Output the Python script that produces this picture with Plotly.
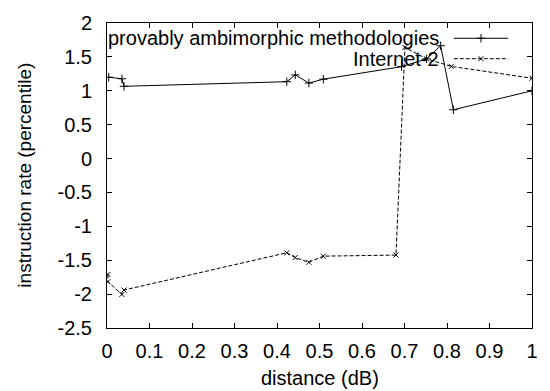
import plotly.graph_objects as go

# ---- data ----
s1_name = "provably ambimorphic methodologies"
s1_x = [0.004, 0.035, 0.040, 0.423, 0.443, 0.475, 0.509, 0.693, 0.752, 0.785, 0.815, 1.0]
s1_y = [1.20, 1.177, 1.066, 1.134, 1.234, 1.114, 1.171, 1.356, 1.47, 1.665, 0.72, 1.0]

s2_name = "Internet-2"
s2_x = [0.002, 0.002, 0.035, 0.040, 0.423, 0.443, 0.475, 0.509, 0.680, 0.701, 0.752, 0.810, 1.0]
s2_y = [-1.711, -1.817, -2.004, -1.94, -1.39, -1.46, -1.53, -1.44, -1.424, 1.64, 1.47, 1.36, 1.185]

x_ticks = [0, 0.1, 0.2, 0.3, 0.4, 0.5, 0.6, 0.7, 0.8, 0.9, 1]
x_tick_labels = ["0", "0.1", "0.2", "0.3", "0.4", "0.5", "0.6", "0.7", "0.8", "0.9", "1"]
y_ticks = [-2.5, -2, -1.5, -1, -0.5, 0, 0.5, 1, 1.5, 2]
y_tick_labels = ["-2.5", "-2", "-1.5", "-1", "-0.5", "0", "0.5", "1", "1.5", "2"]

x_title = "distance (dB)"
y_title = "instruction rate (percentile)"

FONT = "Liberation Sans, Arial, sans-serif"
FS = 20

fig = go.Figure()

fig.add_trace(go.Scatter(
    x=s1_x, y=s1_y, mode="lines+markers", showlegend=False,
    line=dict(color="black", width=1),
    marker=dict(symbol="cross-thin", size=6, line=dict(color="black", width=1)),
))
fig.add_trace(go.Scatter(
    x=s2_x, y=s2_y, mode="lines+markers", showlegend=False,
    line=dict(color="black", width=1, dash="4px,2px"),
    marker=dict(symbol="x-thin", size=5, line=dict(color="black", width=1)),
))

# gnuplot-style key (text right-aligned, sample to the right of text)
key_rows = [(s1_name, "solid", "cross-thin", 6, 0.950),
            (s2_name, "4px,2px", "x-thin", 5, 0.883)]
for name, dash, sym, msz, ky in key_rows:
    fig.add_trace(go.Scatter(
        x=[0.816, 0.944], y=[ky, ky], xaxis="x2", yaxis="y2", mode="lines",
        showlegend=False, hoverinfo="skip",
        line=dict(color="black", width=1, dash=dash)))
    fig.add_trace(go.Scatter(
        x=[0.880], y=[ky], xaxis="x2", yaxis="y2", mode="markers",
        showlegend=False, hoverinfo="skip",
        marker=dict(symbol=sym, size=msz, line=dict(color="black", width=1))))
    fig.add_annotation(text=name, xref="paper", yref="paper", x=0.786, y=ky,
                       xanchor="right", yanchor="middle", showarrow=False,
                       font=dict(family=FONT, size=FS, color="black"))

fig.add_annotation(text=x_title, xref="paper", yref="paper", x=0.5, y=-0.165,
                   xanchor="center", yanchor="middle", showarrow=False,
                   font=dict(family=FONT, size=FS, color="black"))
fig.add_annotation(text=y_title, xref="paper", yref="paper", x=-0.195, y=0.5,
                   xanchor="center", yanchor="middle", showarrow=False, textangle=-90,
                   font=dict(family=FONT, size=19, color="black"))

axis_common = dict(showline=True, linecolor="black", linewidth=1, mirror="ticks",
                   ticks="inside", ticklen=5, tickcolor="black", tickwidth=1,
                   showgrid=False, zeroline=False,
                   tickfont=dict(family=FONT, size=FS, color="black"))

fig.update_layout(
    width=550, height=391,
    margin=dict(l=107, r=13, t=15, b=63),
    paper_bgcolor="white", plot_bgcolor="white",
    xaxis=dict(range=[0, 1], tickvals=x_ticks, ticktext=x_tick_labels,
               ticklabelstandoff=5, **axis_common),
    yaxis=dict(range=[-2.5, 2], tickvals=y_ticks, ticktext=y_tick_labels,
               ticklabelstandoff=10, **axis_common),
    xaxis2=dict(overlaying="x", range=[0, 1], visible=False, anchor="y2"),
    yaxis2=dict(overlaying="y", range=[0, 1], visible=False, anchor="x2"),
)

fig.write_html("out.html")
